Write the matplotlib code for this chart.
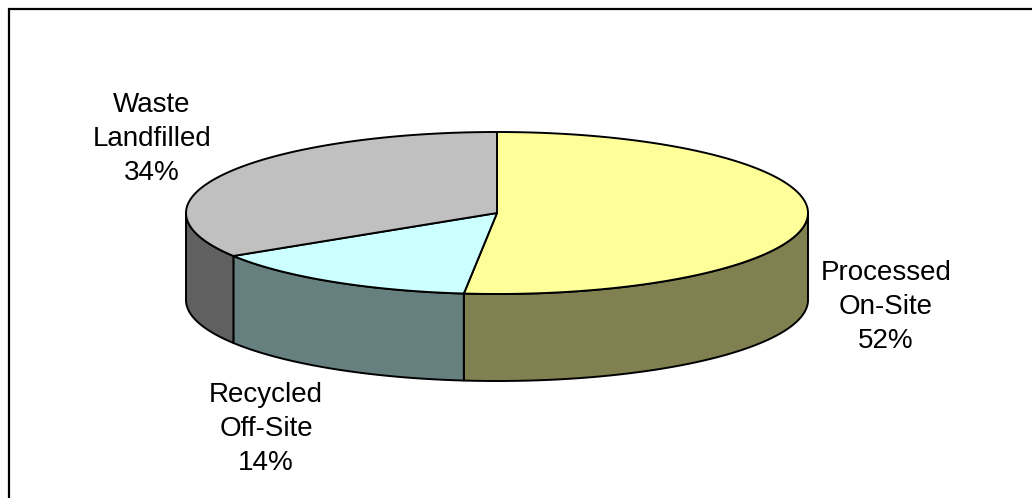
import numpy as np
import matplotlib
matplotlib.use("Agg")
import matplotlib.pyplot as plt
from matplotlib.patches import Polygon, Rectangle

plt.rcParams['font.family'] = ['Liberation Sans', 'DejaVu Sans']

labels = ["Processed\nOn-Site\n52%", "Recycled\nOff-Site\n14%", "Waste\nLandfilled\n34%"]
values = [51.7, 14.4, 33.9]
top_colors = ["#ffff99", "#ccffff", "#c0c0c0"]
side_colors = ["#808050", "#668080", "#606060"]
label_pos = [(886, 307), (266, 429), (152, 139)]

cx, cy, rx, ry, depth = 497, 213, 311, 81, 87


def rim(a0, a1, dy=0):
    t = np.radians(np.linspace(a0, a1, 300))
    return np.column_stack([cx + rx*np.sin(t), cy + dy - ry*np.cos(t)])


fig = plt.figure(figsize=(10.32, 4.98), dpi=100)
ax = fig.add_axes([0, 0, 1, 1])
ax.set_xlim(0, 1032)
ax.set_ylim(498, 0)
ax.axis("off")

ax.add_patch(Rectangle((9, 9), 1040, 500, fc="white", ec="black", lw=1.6))

edges = np.cumsum([0] + values)*3.6
for i in range(len(values)):
    a0, a1 = edges[i], edges[i+1]
    # side wall, only the part on the front of the ellipse
    s0, s1 = max(a0, 90), min(a1, 270)
    if s0 < s1:
        pts = np.vstack([rim(s0, s1), rim(s0, s1, depth)[::-1]])
        ax.add_patch(Polygon(pts, fc=side_colors[i], ec="black", lw=1.4, joinstyle="round"))
for i in range(len(values)):
    a0, a1 = edges[i], edges[i+1]
    pts = np.vstack([[[cx, cy]], rim(a0, a1)])
    ax.add_patch(Polygon(pts, fc=top_colors[i], ec="black", lw=1.4, joinstyle="round"))

for lab, (x, y) in zip(labels, label_pos):
    ax.text(x, y, lab, ha="center", va="center", fontsize=20, linespacing=1.42, color="black")

fig.savefig("out.png", dpi=100)
